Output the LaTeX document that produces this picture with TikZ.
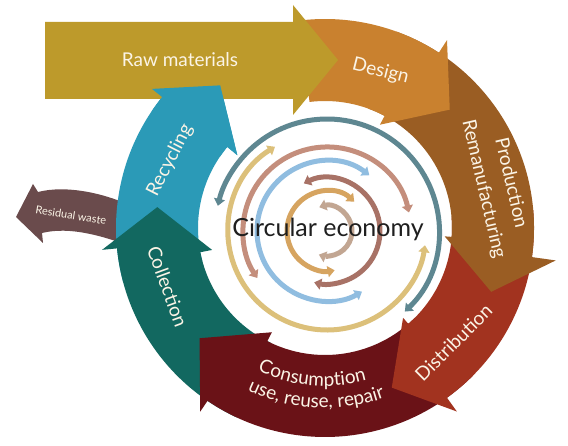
\documentclass[tikz,border=0pt]{standalone}
\usepackage{fontspec}
\setmainfont{Lato}
\usetikzlibrary{arrows.meta,decorations.text}
\definecolor{rawc}{HTML}{BD9A2B}
\definecolor{desc}{HTML}{C9812F}
\definecolor{prodc}{HTML}{9A5D23}
\definecolor{distc}{HTML}{A2331F}
\definecolor{consc}{HTML}{6A1217}
\definecolor{collc}{HTML}{126860}
\definecolor{recyc}{HTML}{2B9AB7}
\definecolor{resic}{HTML}{6A4B4C}
\definecolor{txtc}{HTML}{FBF4E6}
\definecolor{slatec}{HTML}{5E8791}
\definecolor{tanc}{HTML}{DCC07A}
\definecolor{rosec}{HTML}{C48E7C}
\definecolor{bluec}{HTML}{90BDE0}
\definecolor{mauvec}{HTML}{A87266}
\definecolor{ochrec}{HTML}{D6A460}
\definecolor{taupec}{HTML}{C2A692}
% #1 colour, #2 tail angle, #3 inner barb angle, #4 inner barb radius,
% #5 tip angle, #6 tip radius, #7 outer barb angle, #8 outer barb radius
\newcommand\segshape[8]{%
  \fill[#1] (#2:127) arc[start angle=#2,end angle=#3,radius=127] -- (#3:#4) -- (#5:#6) -- (#7:#8) -- (#7:209) arc[start angle=#7,end angle=#2,radius=209] -- cycle;}
\newcommand\segfont{\fontsize{19}{28}\selectfont}
\begin{document}
\begin{tikzpicture}[x=1pt,y=1pt,
  seglbl/.style={text=txtc, font=\segfont, inner sep=0pt},
  inarc/.style={line width=5pt, arrows={Triangle[width=11pt,length=7pt]-Triangle[width=11pt,length=7pt]}}]
\useasboundingbox (0,0) rectangle (568,445);
\fill[white] (0,0) rectangle (568,445);
% residual waste arrow
\fill[resic] (16,228) -- (33,261) -- (38,253) .. controls (65,260) and (105,253) .. (140,235) -- (140,195) .. controls (105,209) and (70,219) .. (42,212) -- (43,202) -- cycle;
% ring segments
\begin{scope}[shift={(325,217)}]
  \segshape{recyc}{-165}{-219.7}{114}{-233.7}{177}{-218.8}{222}
  \segshape{collc}{-115}{-169}{115}{-187.1}{169}{-174.4}{224}
  \segshape{consc}{-45}{-117}{117}{-138.7}{167}{-124.2}{222}
  \segshape{distc}{5}{-49}{119}{-67.3}{173}{-54.3}{226}
  \segshape{prodc}{70}{-4}{120}{-21}{178}{-8}{233}
  \segshape{desc}{97}{62}{117}{43.5}{172}{57}{224}
\end{scope}
% raw materials
\fill[rawc] (45,346) -- (45,423) -- (293,423) -- (293,440) -- (338,385) -- (293,330) -- (293,346) -- cycle;
% recycling head over raw materials
\begin{scope}[shift={(325,217)}]
  \segshape{recyc}{-214}{-219.7}{114}{-233.7}{177}{-218.8}{222}
\end{scope}
% inner arcs
\begin{scope}[shift={(327,214)}]
  \draw[inarc, slatec] (-46:112) arc[start angle=-46,end angle=167,radius=112];
  \draw[inarc, tanc] (121.7:99) arc[start angle=121.7,end angle=351.7,radius=99];
  \draw[inarc, rosec] (12.7:84) arc[start angle=12.7,end angle=214,radius=84];
  \draw[inarc, bluec] (52.8:70) arc[start angle=52.8,end angle=300,radius=70];
  \draw[inarc, mauvec] (116:53) arc[start angle=116,end angle=-104,radius=53];
  \draw[inarc, ochrec] (47:40) arc[start angle=47,end angle=281,radius=40];
  \draw[inarc, taupec] (108:25) arc[start angle=108,end angle=-109,radius=25];
\end{scope}
% labels
\node[seglbl, anchor=base] (traw) at (180,378) {Raw materials};
\node[seglbl, rotate=-14] (tdesign) at (380.5,373.5) {Design};
\node[seglbl, rotate=-77, align=center] (tprod) at (497,259) {Production\\Remanufacturing};
\node[seglbl, rotate=45] (tdist) at (453.5,102.5) {Distribution};
\node[seglbl, rotate=-70] (tcoll) at (167.5,158.5) {Collection};
\node[seglbl, rotate=63] (trecy) at (170,284.5) {Recycling};
\node[text=txtc, font=\fontsize{11}{13}\selectfont, inner sep=0pt, rotate=-9] (tresid) at (71,230) {Residual waste};
\node[font=\fontsize{25}{30}\selectfont, text=black!88, anchor=base, inner sep=0pt] (tcirc) at (328,208) {Circular economy};
\begin{scope}[shift={(325,217)}]
  \path[decorate, decoration={text along path, text={|\segfont|Consumption}, text align=center, text color=txtc}] (-130:158) arc[start angle=-130,end angle=-60,radius=158];
  \path[decorate, decoration={text along path, text={|\segfont|use, reuse, repair}, text align=center, text color=txtc}] (-128:180) arc[start angle=-128,end angle=-58,radius=180];
\end{scope}
\end{tikzpicture}
\end{document}
